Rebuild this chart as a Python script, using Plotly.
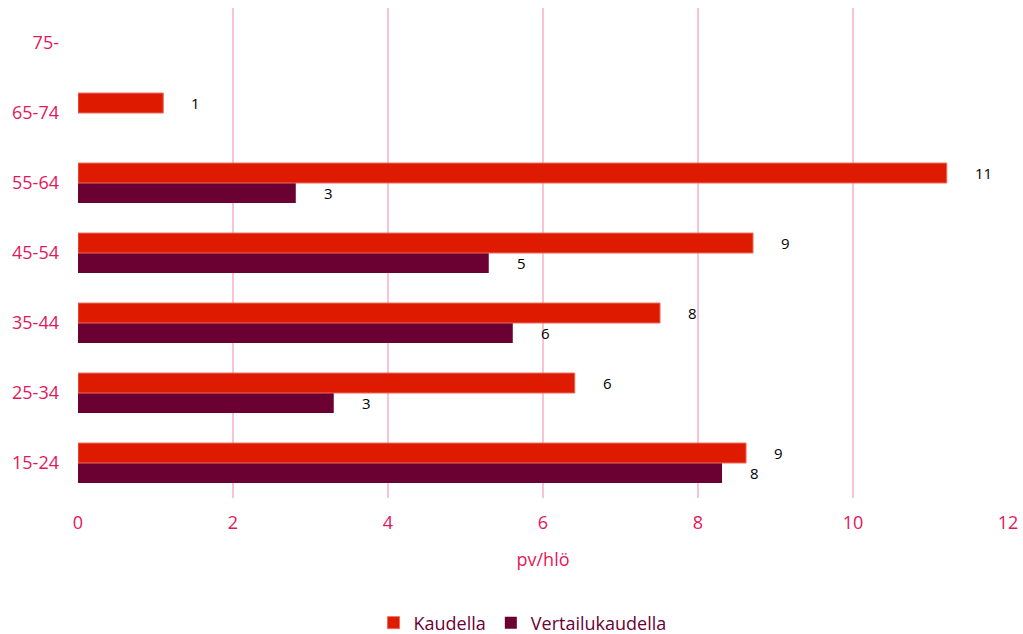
import plotly.graph_objects as go

categories = ["15-24", "25-34", "35-44", "45-54", "55-64", "65-74", "75-"]
kaudella = [8.62, 6.41, 7.51, 8.71, 11.21, 1.10, None]
vertailukaudella = [8.31, 3.30, 5.61, 5.30, 2.81, None, None]
x_ticks = [0, 2, 4, 6, 8, 10, 12]

RED = "#DE1A00"
PURPLE = "#6B0033"
MAGENTA = "#E3175B"
FONT = "Open Sans"

fig = go.Figure()
fig.add_trace(go.Bar(
    y=categories, x=vertailukaudella, name="Vertailukaudella", orientation="h",
    marker=dict(color=PURPLE, line=dict(width=0)), legendrank=2,
))
fig.add_trace(go.Bar(
    y=categories, x=kaudella, name="Kaudella", orientation="h",
    marker=dict(color=RED, line=dict(color="#F06A5A", width=1)), legendrank=1,
))

annotations = []
for cat, v in zip(categories, kaudella):
    if v is not None:
        annotations.append(dict(x=v, y=cat, xref="x", yref="y", text=f"{round(v)}",
                                showarrow=False, xanchor="left", xshift=26, yshift=10,
                                font=dict(family=FONT, size=15, color="#000000")))
for cat, v in zip(categories, vertailukaudella):
    if v is not None:
        annotations.append(dict(x=v, y=cat, xref="x", yref="y", text=f"{round(v)}",
                                showarrow=False, xanchor="left", xshift=26, yshift=-10,
                                font=dict(family=FONT, size=15, color="#000000")))

fig.update_layout(
    width=1023, height=634,
    margin=dict(l=78, r=15, t=8, b=136, autoexpand=False),
    paper_bgcolor="white", plot_bgcolor="white",
    barmode="group", bargap=0.43, bargroupgap=0,
    font=dict(family=FONT),
    showlegend=True,
    legend=dict(orientation="h", x=0.478, xanchor="center", y=-0.255, yanchor="middle",
                font=dict(family=FONT, size=18, color=PURPLE), itemwidth=30,
                traceorder="normal"),
    annotations=annotations,
    xaxis=dict(range=[0, 12], tickvals=x_ticks, showgrid=True, gridcolor="#F9C3D6",
               gridwidth=1.5, zeroline=False, showline=False, automargin=False,
               tickfont=dict(family=FONT, size=18, color=MAGENTA), ticks="",
               ticklabelstandoff=12,
               title=dict(text="pv/hlö", font=dict(family=FONT, size=18, color=MAGENTA), standoff=20)),
    yaxis=dict(categoryorder="array", categoryarray=categories, showgrid=False,
               zeroline=False, showline=False, ticks="", ticklabelstandoff=18,
               automargin=False,
               tickfont=dict(family=FONT, size=18, color=MAGENTA)),
)

fig.write_html("out.html", config={"displayModeBar": False},
               post_script="document.body.style.margin='0';")
